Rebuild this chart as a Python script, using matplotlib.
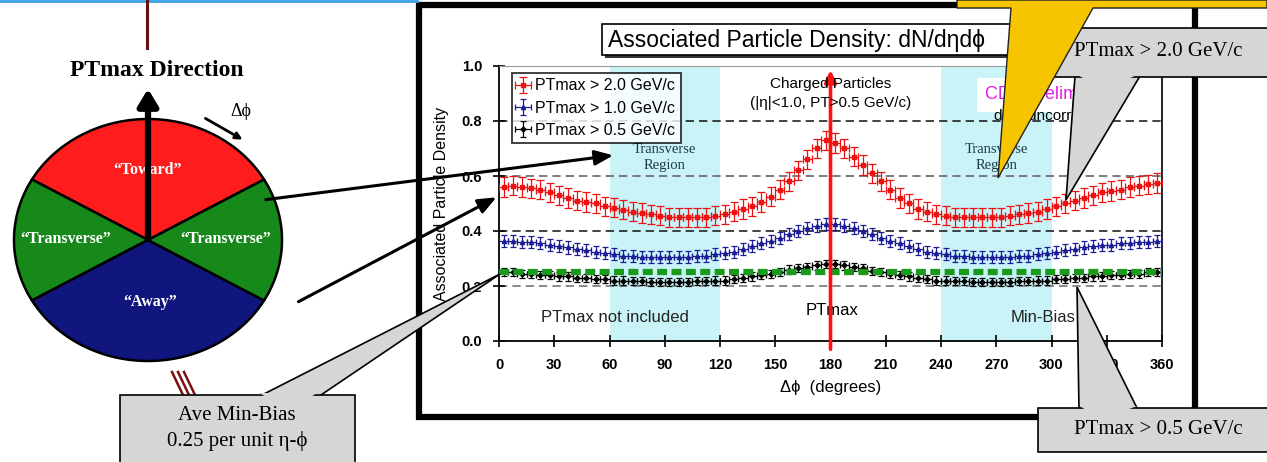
import numpy as np
import matplotlib
matplotlib.use("Agg")
import matplotlib.pyplot as plt
from matplotlib.patches import Polygon, Rectangle

# ---- data ----
phi = np.arange(2.5, 360, 5.0)  # 5 degree bin centres

pt20 = [0.560, 0.565, 0.560, 0.555, 0.550, 0.540, 0.530, 0.520, 0.510, 0.505, 0.500, 0.490,
        0.485, 0.478, 0.470, 0.465, 0.460, 0.455, 0.450, 0.450, 0.450, 0.450, 0.450, 0.455,
        0.460, 0.470, 0.480, 0.490, 0.505, 0.525, 0.550, 0.580, 0.620, 0.660, 0.700, 0.730,
        0.720, 0.700, 0.670, 0.640, 0.610, 0.580, 0.550, 0.520, 0.500, 0.480, 0.470, 0.460,
        0.455, 0.450, 0.450, 0.450, 0.450, 0.450, 0.450, 0.455, 0.460, 0.465, 0.470, 0.480,
        0.490, 0.500, 0.510, 0.520, 0.530, 0.540, 0.545, 0.550, 0.560, 0.565, 0.570, 0.575]
pt10 = [0.365, 0.365, 0.360, 0.360, 0.355, 0.350, 0.345, 0.340, 0.335, 0.330, 0.325, 0.320,
        0.315, 0.310, 0.310, 0.305, 0.305, 0.305, 0.305, 0.305, 0.305, 0.310, 0.310, 0.315,
        0.320, 0.325, 0.335, 0.345, 0.355, 0.365, 0.375, 0.390, 0.400, 0.410, 0.420, 0.425,
        0.425, 0.420, 0.410, 0.400, 0.390, 0.375, 0.365, 0.355, 0.345, 0.335, 0.325, 0.320,
        0.315, 0.310, 0.310, 0.305, 0.305, 0.305, 0.305, 0.305, 0.310, 0.310, 0.315, 0.320,
        0.325, 0.330, 0.335, 0.340, 0.345, 0.350, 0.350, 0.355, 0.355, 0.360, 0.360, 0.365]
pt05 = [0.250, 0.250, 0.245, 0.245, 0.240, 0.240, 0.235, 0.235, 0.230, 0.230, 0.225, 0.225,
        0.220, 0.220, 0.218, 0.218, 0.215, 0.215, 0.215, 0.215, 0.215, 0.218, 0.218, 0.220,
        0.220, 0.225, 0.230, 0.235, 0.240, 0.245, 0.250, 0.260, 0.265, 0.270, 0.275, 0.280,
        0.280, 0.275, 0.270, 0.265, 0.255, 0.250, 0.245, 0.240, 0.235, 0.230, 0.225, 0.220,
        0.220, 0.218, 0.218, 0.215, 0.215, 0.215, 0.215, 0.215, 0.218, 0.218, 0.220, 0.220,
        0.225, 0.225, 0.230, 0.230, 0.235, 0.235, 0.240, 0.240, 0.245, 0.245, 0.250, 0.250]
err20, err10, err05 = 0.035, 0.022, 0.015
minbias = 0.25

xticks = [0, 30, 60, 90, 120, 150, 180, 210, 240, 270, 300, 330, 360]
yticks = [0.0, 0.2, 0.4, 0.6, 0.8, 1.0]
legend_labels = ["PTmax > 2.0 GeV/c", "PTmax > 1.0 GeV/c", "PTmax > 0.5 GeV/c"]

W, H = 1267, 462
fig = plt.figure(figsize=(W / 100, H / 100), dpi=100)
serif = "Liberation Serif"
sans = "Liberation Sans"

# background layer in pixel coordinates
bg = fig.add_axes([0, 0, 1, 1], zorder=0)
bg.set_xlim(0, W)
bg.set_ylim(H, 0)
bg.axis("off")

bg.plot([0, 417], [1, 1], color="#3aa0e6", lw=2)
bg.plot([147, 147], [0, 48], color="#6b1010", lw=2.2)
bg.add_patch(Rectangle((419, 5), 776, 412, fill=False, ec="black", lw=4.5))

# pie diagram
cx, cy, rx, ry = 148, 240, 134, 121
def sector(a0, a1):
    t = np.radians(np.linspace(a0, a1, 60))
    pts = np.column_stack([cx + rx * np.cos(t), cy - ry * np.sin(t)])
    return np.vstack([[cx, cy], pts])
for a0, a1, col in [(30, 150, "#ff1c1c"), (150, 210, "#17881a"),
                    (210, 330, "#10167e"), (-30, 30, "#17881a")]:
    bg.add_patch(Polygon(sector(a0, a1), closed=True, fc=col, ec="black", lw=1.8))
for x, y, s in [(148, 170, "\u201cToward\u201d"), (66, 239, "\u201cTransverse\u201d"),
                (226, 239, "\u201cTransverse\u201d"), (150, 302, "\u201cAway\u201d")]:
    bg.text(x, y, s, color="white", ha="center", va="center", fontsize=11.5,
            fontweight="bold", family=serif)
bg.annotate("", xy=(148, 86), xytext=(148, 240),
            arrowprops=dict(arrowstyle="-|>,head_width=0.6,head_length=1.0",
                            color="black", lw=4.5))
bg.text(157, 70, "PTmax Direction", ha="center", va="center", fontsize=17,
        fontweight="bold", family=serif)
bg.text(241, 111, "\u0394\u03d5", ha="center", va="center", fontsize=13, family=serif)
bg.annotate("", xy=(245, 141), xytext=(203, 117),
            arrowprops=dict(arrowstyle="-|>,head_width=0.2,head_length=0.4",
                            color="black", lw=2))
for dx in (0, 6, 12):
    bg.plot([172 + dx, 183 + dx], [372, 395], color="#7a1010", lw=1.8)

# ---- chart ----
ax = fig.add_axes([499 / W, (H - 341) / H, 663 / W, 275 / H], zorder=1)
ax.set_xlim(0, 360)
ax.set_ylim(0, 1.0)
ax.axvspan(60, 120, color="#c9f3f7", lw=0, zorder=0)
ax.axvspan(240, 300, color="#c9f3f7", lw=0, zorder=0)
for yv, c in [(0.8, "#222222"), (0.6, "#666666"), (0.4, "#222222"), (0.2, "#777777")]:
    ax.axhline(yv, color=c, lw=1.2, dashes=(5, 3), zorder=1)

ax.errorbar(phi, pt05, yerr=err05, xerr=2.5, fmt="D", ms=2.5, color="black",
            elinewidth=0.9, capsize=2.5, capthick=0.9, zorder=3, label=legend_labels[2])
ax.plot([0, 360], [minbias, minbias], color="#1a9a1a", lw=4.5, dashes=(1.6, 0.7), zorder=4)
ax.errorbar(phi, pt10, yerr=err10, xerr=2.5, fmt="^", ms=3, color="#1c1c96",
            elinewidth=0.9, capsize=2.5, capthick=0.9, zorder=3, label=legend_labels[1])
ax.errorbar(phi, pt20, yerr=err20, xerr=2.5, fmt="s", ms=3, color="#ee1111",
            elinewidth=0.9, capsize=3, capthick=0.9, zorder=3, label=legend_labels[0])

ax.annotate("", xy=(180, 0.995), xytext=(180, -0.04), annotation_clip=False,
            arrowprops=dict(arrowstyle="-|>,head_width=0.35,head_length=0.7",
                            color="#ff1010", lw=2.6), zorder=5)

ax.set_xticks(xticks)
ax.set_yticks(yticks)
ax.set_yticklabels([f"{v:.1f}" for v in yticks])
ax.tick_params(direction="inout", length=8, width=1.2, pad=8)
for lab in ax.get_xticklabels() + ax.get_yticklabels():
    lab.set_family(sans)
    lab.set_fontweight("bold")
    lab.set_fontsize(10.5)
for s in ("left", "bottom"):
    ax.spines[s].set_linewidth(1.3)
ax.spines["top"].set_color("#999999")
ax.spines["top"].set_linewidth(0.8)
ax.spines["right"].set_linewidth(1.2)
ax.set_xlabel("\u0394\u03d5  (degrees)", fontsize=12, family=sans, labelpad=6)
ax.set_ylabel("Associated Particle Density", fontsize=11.5, family=sans, labelpad=9)

h, l = ax.get_legend_handles_labels()
leg = ax.legend(h[::-1], l[::-1], loc="upper left", bbox_to_anchor=(0.02, 0.975),
                frameon=True, fancybox=False, edgecolor="black", borderaxespad=0,
                handlelength=0.6, handletextpad=0.5, borderpad=0.35, labelspacing=0.45,
                prop={"family": sans, "size": 11.5})
leg.get_frame().set_linewidth(1.3)
leg.set_zorder(6)

tc = "#1d3c44"
for xc in (90, 270):
    ax.text(xc, 0.695, "Transverse", ha="center", va="center", fontsize=10.5, color=tc,
            family=serif)
    ax.text(xc, 0.64, "Region", ha="center", va="center", fontsize=10.5, color=tc,
            family=serif)
ax.text(180, 0.935, "Charged Particles", ha="center", va="center", fontsize=11, family=sans,
        zorder=6)
ax.text(180, 0.865, "(|\u03b7|<1.0, PT>0.5 GeV/c)", ha="center", va="center", fontsize=11,
        family=sans, zorder=6)
ax.text(300, 0.895, "CDF Preliminary", ha="center", va="center", fontsize=13,
        color="#e020e0", family=sans, bbox=dict(fc="white", ec="none", pad=6))
ax.text(300, 0.82, "data uncorrected", ha="center", va="center", fontsize=11, family=sans)
ax.text(63, 0.087, "PTmax not included", ha="center", va="center", fontsize=12,
        color="#222222", family=sans)
ax.text(181, 0.11, "PTmax", ha="center", va="center", fontsize=12, family=sans)
ax.text(278, 0.087, "Min-Bias", ha="left", va="center", fontsize=12, color="#222222",
        family=sans)

# ---- top layer: title box, callouts, pointers ----
top = fig.add_axes([0, 0, 1, 1], zorder=2)
top.set_xlim(0, W)
top.set_ylim(H, 0)
top.axis("off")
top.patch.set_alpha(0)

top.add_patch(Rectangle((605, 27), 420, 31, fc="#333333", ec="none"))
top.add_patch(Rectangle((602, 24), 420, 31, fc="white", ec="black", lw=1.2))
top.text(608, 40, "Associated Particle Density: dN/d\u03b7d\u03d5", ha="left", va="center",
         fontsize=16.5, family=sans)

arrow_kw = dict(arrowstyle="-|>,head_width=0.45,head_length=1.1", color="black", lw=2.2)
top.annotate("", xy=(616, 155), xytext=(263, 200), arrowprops=arrow_kw)
top.annotate("", xy=(499, 196), xytext=(296, 303), arrowprops=arrow_kw)

gray = "#d6d6d6"
# upper right callout
top.add_patch(Polygon([(1075, 76), (1140, 76), (1066, 200)], closed=True, fc=gray,
                      ec="black", lw=1.2))
top.add_patch(Rectangle((1040, 28), 240, 49, fc=gray, ec="black", lw=1.2))
top.add_patch(Polygon([(1076, 74), (1139, 74), (1104, 90)], closed=True, fc=gray, ec="none"))
top.text(1158, 52, "PTmax > 2.0 GeV/c", ha="center", va="center", fontsize=15, family=serif)
# yellow pointer
top.add_patch(Polygon([(957, 0), (1267, 0), (1267, 8), (1093, 8), (998, 178), (1011, 8),
                       (957, 8)], closed=True, fc="#f7c400", ec="#222222", lw=1))
# lower right callout
top.add_patch(Polygon([(1079, 410), (1138, 410), (1077, 287)], closed=True, fc=gray,
                      ec="black", lw=1.2))
top.add_patch(Rectangle((1038, 408), 240, 44, fc=gray, ec="black", lw=1.2))
top.add_patch(Polygon([(1080, 406), (1137, 406), (1100, 420)], closed=True, fc=gray, ec="none"))
top.text(1158, 430, "PTmax > 0.5 GeV/c", ha="center", va="center", fontsize=15, family=serif)
# lower left callout
top.add_patch(Polygon([(258, 397), (318, 397), (500, 274)], closed=True, fc=gray,
                      ec="black", lw=1.2))
top.add_patch(Rectangle((120, 395), 235, 80, fc=gray, ec="black", lw=1.2))
top.add_patch(Polygon([(259, 393), (317, 393), (290, 410)], closed=True, fc=gray, ec="none"))
top.text(237, 416, "Ave Min-Bias", ha="center", va="center", fontsize=15, family=serif)
top.text(237, 441, "0.25 per unit \u03b7-\u03d5", ha="center", va="center", fontsize=15,
         family=serif)

fig.savefig("out.png", dpi=100)
